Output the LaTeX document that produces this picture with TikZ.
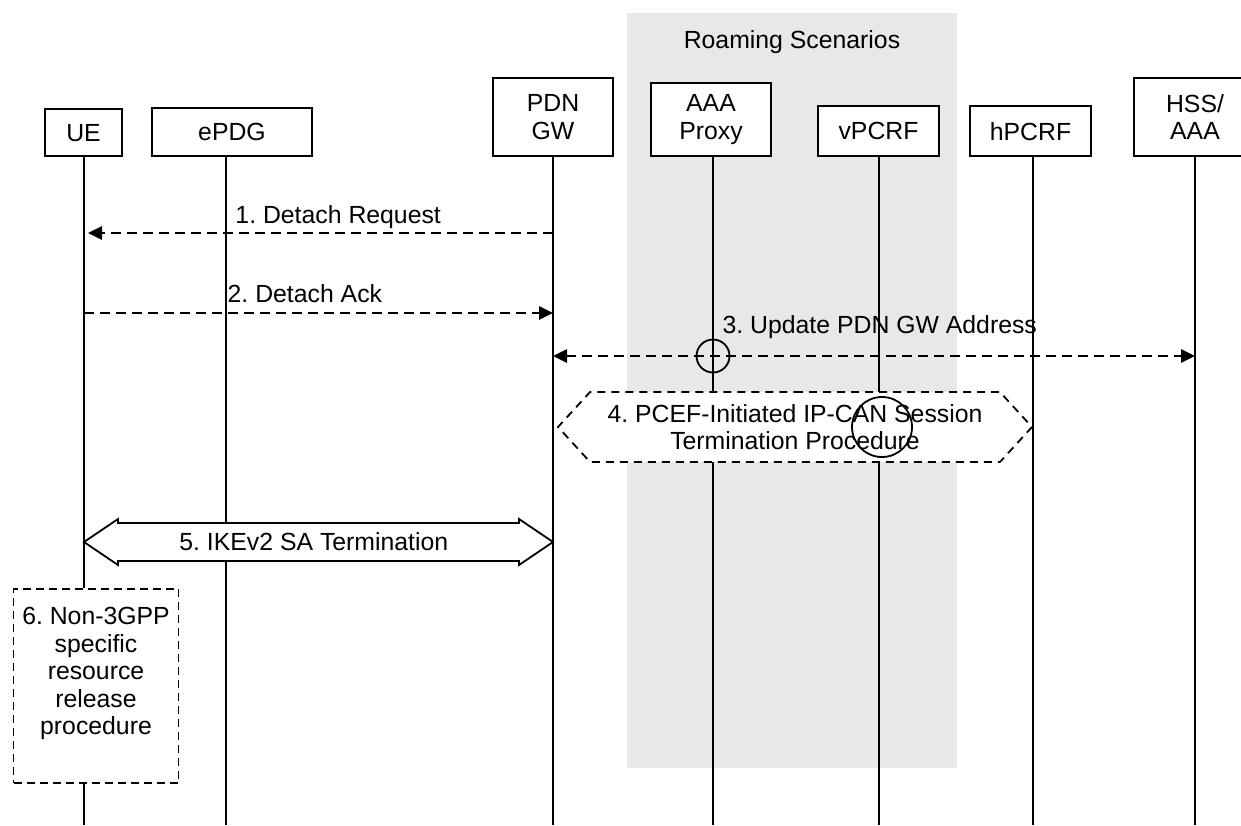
\documentclass[tikz,border=0pt]{standalone}
\usepackage{fontspec}
\setmainfont{Liberation Sans}
\usepackage{tikz}
\usetikzlibrary{arrows.meta, positioning, calc, shapes.symbols}
\definecolor{cRoam}{HTML}{E8E8E8}
\frenchspacing

\begin{document}
\begin{tikzpicture}[
  x=1pt, y=-1pt,
  every node/.style={font=\fontsize{24.8}{27.5}\selectfont},
  entity/.style 2 args={draw, line width=1.6pt, fill=white, anchor=south,
    minimum width=#1, minimum height=#2, inner sep=0pt, align=center},
  life/.style={line width=2pt},
  msg/.style={line width=2.6pt, dash pattern=on 10pt off 6pt},
  msgtip/.style={-{Triangle[length=14pt,width=13pt]}},
  msgtips/.style={{Triangle[length=14pt,width=13pt]}-{Triangle[length=14pt,width=13pt]}},
  msglbl/.style={anchor=base, inner sep=0pt, yshift=#1},
  hexproc/.style={shape=signal, signal to=west and east, signal pointer angle=95,
    draw, line width=1.8pt, dash pattern=on 8pt off 6pt, fill=white,
    minimum width=474pt, minimum height=70pt, inner sep=0pt, align=center},
  boxproc/.style={draw, line width=1.8pt, dash pattern=on 8pt off 5pt, fill=white,
    minimum width=165pt, minimum height=194pt},
  bigarr/.style={draw, line width=1.8pt, fill=white, line join=miter},
  hit/.style={draw, circle, line width=1.8pt, inner sep=0pt, minimum size=#1},
]
\useasboundingbox (0,0) rectangle (1241,825);

%% ── Roaming area ─────────────────────────────────────────────────────
\fill[cRoam] (627,13) rectangle (957,768);
\node[anchor=base, inner sep=0pt] (roam) at (792,48) {Roaming Scenarios};

%% ── Entities (all boxes sit on one bottom line) ─────────────────────
\node[entity={77pt}{47pt}]  (ue)    at (83.5,157) {UE};
\node[entity={160pt}{48pt}] (epdg)  at (232,157)  {ePDG};
\node[entity={120pt}{78pt}] (pgw)   at (553,157)  {PDN\\GW};
\node[entity={120pt}{73pt}] (aaa)   at (711,157)  {AAA\\Proxy};
\node[entity={121pt}{50pt}] (vpcrf) at (878.5,157) {vPCRF};
\node[entity={121pt}{50pt}] (hpcrf) at (1030.5,157) {hPCRF};
\node[entity={122pt}{78pt}] (hss)   at (1195,157) {HSS/\\AAA};

\coordinate (bot) at (0,825);

%% ── Lifelines ────────────────────────────────────────────────────────
\foreach \n/\x in {epdg/226, pgw/553, aaa/713, vpcrf/879, hpcrf/1033, hss/1195}
  \draw[life] (\x,157) coordinate (\n L) -- (\x,825);
\coordinate (ueL) at (84,157);

% (6) local release box breaks the UE lifeline
\node[boxproc] (rel) at (96,686) {};
\node[anchor=north, inner sep=0pt, align=center] (reltxt)
  at ([yshift=-19pt]rel.north) {6. Non-3GPP\\specific\\resource\\release\\procedure};
\draw[life] (ueL) -- (ueL |- rel.north);
\draw[life] (ueL |- rel.south) -- (ueL |- bot);

%% ── Messages ─────────────────────────────────────────────────────────
% (1) PDN GW -> UE
\draw[msg, msgtip, shorten >=4pt] (pgwL |- 0,233) -- (ueL |- 0,233)
  node[msglbl=10pt, pos=0.458] (m1) {1. Detach Request};

% (2) UE -> PDN GW
\draw[msg, msgtip] (ueL |- 0,313) -- (pgwL |- 0,313)
  node[msglbl=11pt, pos=0.471] (m2) {2. Detach Ack};

% (3) PDN GW <-> HSS/AAA
\draw[msg, msgtips] (pgwL |- 0,356) -- (hssL |- 0,356)
  node[msglbl=23pt, pos=0.509] (m3) {3. Update PDN GW Address};
\node[hit=33pt] (c3) at (aaaL |- 0,356) {};

% (4) IP-CAN session termination
\node[hexproc] (term) at (795,427)
  {4. PCEF-Initiated IP-CAN Session\\Termination Procedure};
\node[hit=60pt] (c4) at (882,427) {};

% (5) IKEv2 tunnel teardown, UE <-> PDN GW
\path (ueL |- 0,542) coordinate (ike1) (pgwL |- 0,542) coordinate (ike2);
\draw[bigarr] (ike1) -- ++(34,-23) -- ++(0,4) -- ($(ike2)+(-34,-19)$)
  -- ++(0,-4) -- (ike2) -- ++(-34,23) -- ++(0,-4) -- ($(ike1)+(34,19)$)
  -- ++(0,4) -- cycle;
\node (ike) at ($(ike1)!0.49!(ike2)$) {5. IKEv2 SA Termination};

\end{tikzpicture}
\end{document}
